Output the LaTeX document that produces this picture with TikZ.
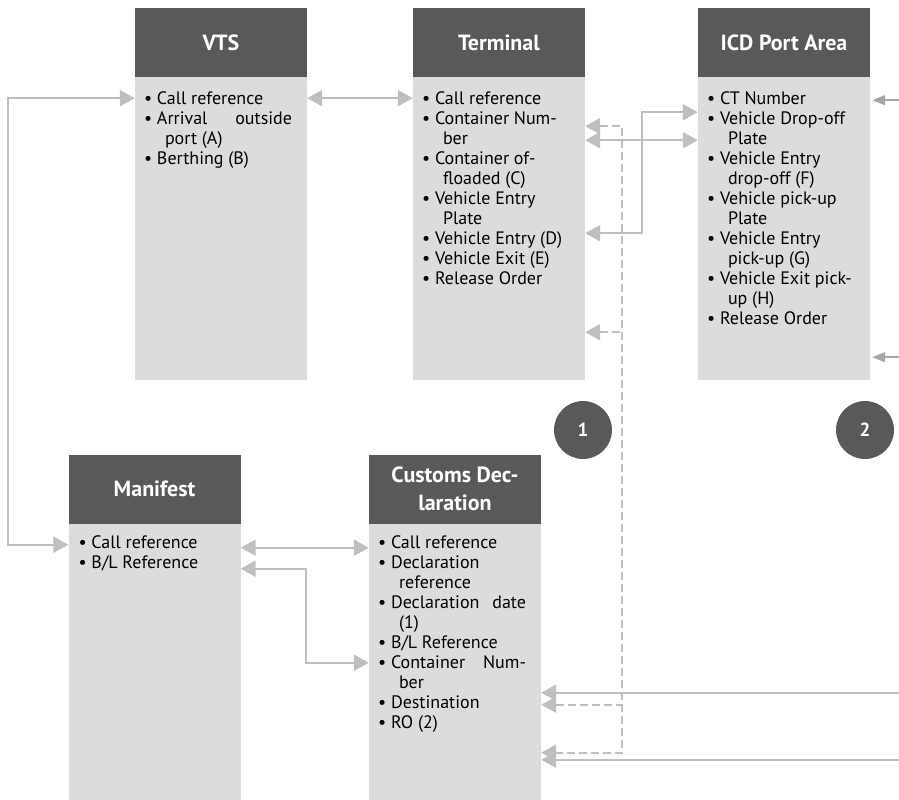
\documentclass[tikz,border=0pt]{standalone}
\usepackage{fontspec}
\setmainfont{PT Sans}
\usetikzlibrary{arrows.meta,calc}

\definecolor{hdgray}{HTML}{595959}
\definecolor{bdgray}{HTML}{DCDCDC}
\definecolor{lngray}{HTML}{BFBFBF}
\definecolor{tipgray}{HTML}{A6A6A6}

\newcommand{\bitem}[1]{\strut\makebox[13pt][l]{\textbullet}#1}
\newcommand{\bjust}[1]{\strut\makebox[13pt][l]{\textbullet}\makebox[135pt][s]{#1}}
\newcommand{\bcont}[1]{\strut\hspace*{21pt}#1}

\tikzset{
  hdr/.style={fill=hdgray, text=white, font=\fontsize{22}{28}\selectfont\bfseries,
    align=center, minimum width=172pt, minimum height=69pt, inner sep=0pt},
  bdy/.style={fill=bdgray, minimum width=172pt, inner sep=0pt, anchor=north},
  txt/.style={anchor=north west, align=left, inner sep=0pt, font=\fontsize{18}{20}\selectfont},
  badge/.style={circle, fill=hdgray, text=white, minimum size=58pt, inner sep=0pt,
    font=\fontsize{19}{20}\selectfont\bfseries},
  link/.style={draw=lngray, line width=2.2pt, >={Triangle[length=15pt,width=16pt]}},
  dlink/.style={link, dash pattern=on 8pt off 4pt},
  stub/.style={draw=tipgray, line width=1.5pt, >={Triangle[length=13pt,width=10pt]}}
}

\begin{document}
\begin{tikzpicture}[x=1pt,y=-1pt]
\useasboundingbox (0,0) rectangle (899,800);

% top row
\node[hdr] (vtsh) at (221,42.5) {VTS};
\node[bdy, minimum height=303pt] (vtsb) at (vtsh.south) {};
\node[txt] (vtst) at ($(vtsb.north west)+(9,13)$) {\bitem{Call reference}\\ \bjust{Arrival outside}\\
  \bcont{port (A)}\\ \bitem{Berthing (B)}};

\node[hdr] (termh) at (499,42.5) {Terminal};
\node[bdy, minimum height=303pt] (termb) at (termh.south) {};
\node[txt] (termt) at ($(termb.north west)+(9,13)$) {\bitem{Call reference}\\ \bitem{Container Num-}\\
  \bcont{ber}\\ \bitem{Container of-}\\ \bcont{floaded (C)}\\ \bitem{Vehicle Entry}\\ \bcont{Plate}\\
  \bitem{Vehicle Entry (D)}\\ \bitem{Vehicle Exit (E)}\\ \bitem{Release Order}};

\node[hdr] (icdh) at (784,42.5) {ICD Port Area};
\node[bdy, minimum height=303pt] (icdb) at (icdh.south) {};
\node[txt] (icdt) at ($(icdb.north west)+(9,13)$) {\bitem{CT Number}\\ \bitem{Vehicle Drop-off}\\
  \bcont{Plate}\\ \bitem{Vehicle Entry}\\ \bcont{drop-off (F)}\\ \bitem{Vehicle pick-up}\\ \bcont{Plate}\\
  \bitem{Vehicle Entry}\\ \bcont{pick-up (G)}\\ \bitem{Vehicle Exit pick-}\\ \bcont{up (H)}\\
  \bitem{Release Order}};

\node[badge] (one) at (583,430) {1};
\node[badge] (two) at (865,430) {2};

% bottom row
\node[hdr] (manh) at (154.5,489) {Manifest};
\node[bdy, minimum height=276pt] (manb) at (manh.south) {};
\node[txt] (mant) at ($(manb.north west)+(10,11)$) {\bitem{Call reference}\\ \bitem{B/L Reference}};

\node[hdr] (custh) at (455,489) {Customs Dec-\\laration};
\node[bdy, minimum height=276pt] (custb) at (custh.south) {};
\node[txt] (custt) at ($(custb.north west)+(9,11)$) {\bitem{Call reference}\\ \bitem{Declaration}\\
  \bcont{reference}\\ \bjust{Declaration date}\\ \bcont{(1)}\\ \bitem{B/L Reference}\\
  \bjust{Container Num-}\\ \bcont{ber}\\ \bitem{Destination}\\ \bitem{RO (2)}};

% links
\draw[link,<->] ($(vtsb.north east)+(0,21)$) -- ($(termb.north west)+(0,21)$);
\draw[link,<->] ($(vtsb.north west)+(0,21)$) -| ($(manb.north west)+(-60,21)$) -- ($(manb.north west)+(0,21)$);

\draw[link,<->] ($(termb.north east)+(0,63)$) -- ($(icdb.north west)+(0,63)$);
\draw[link,<->] ($(termb.north east)+(0,156)$) -| ($(icdb.north west)+(-56,35)$) -- ($(icdb.north west)+(0,35)$);

\draw[dlink,<->] ($(termb.north east)+(0,49)$) -| ($(custb.north east)+(81,229)$) -- ($(custb.north east)+(0,229)$);
\draw[dlink,<-] ($(termb.north east)+(0,255)$) -- ++(37,0);
\draw[dlink,<-] ($(custb.north east)+(0,181)$) -- ++(81,0);

\draw[link,<-] ($(custb.north east)+(0,169)$) -- ++(358,0);
\draw[link,<-] ($(custb.north east)+(0,236)$) -- ++(358,0);
\draw[stub,<-] ($(icdb.north east)+(2,23)$) -- ++(27,0);
\draw[stub,<-] ($(icdb.north east)+(2,280)$) -- ++(27,0);

\draw[link,<->] ($(manb.north east)+(0,24)$) -- ($(custb.north west)+(0,24)$);
\draw[link,<->] ($(manb.north east)+(0,45)$) -| ($(custb.north west)+(-63,139)$) -- ($(custb.north west)+(0,139)$);

\end{tikzpicture}
\end{document}
